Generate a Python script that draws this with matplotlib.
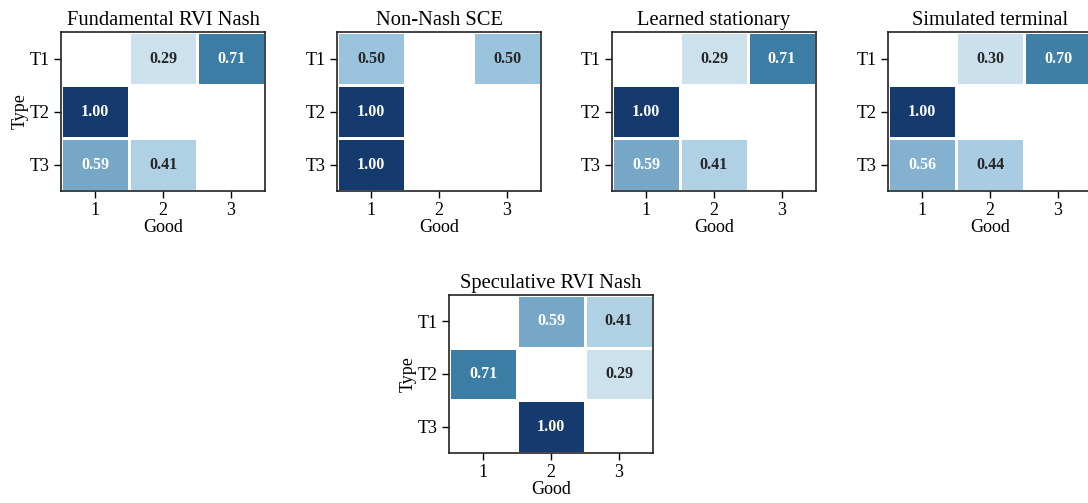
import numpy as np
import matplotlib
matplotlib.use("Agg")
import matplotlib.pyplot as plt
from matplotlib import colors

plt.rcParams['font.family'] = ['Liberation Serif', 'DejaVu Serif']

goods = ["1", "2", "3"]
types = ["T1", "T2", "T3"]

fundamental_nash = [[0.00, 0.29, 0.71],
                    [1.00, 0.00, 0.00],
                    [0.59, 0.41, 0.00]]
non_nash_sce = [[0.50, 0.00, 0.50],
                [1.00, 0.00, 0.00],
                [1.00, 0.00, 0.00]]
learned_stationary = [[0.00, 0.29, 0.71],
                      [1.00, 0.00, 0.00],
                      [0.59, 0.41, 0.00]]
simulated_terminal = [[0.00, 0.30, 0.70],
                      [1.00, 0.00, 0.00],
                      [0.56, 0.44, 0.00]]
speculative_nash = [[0.00, 0.59, 0.41],
                    [0.71, 0.00, 0.29],
                    [0.00, 1.00, 0.00]]

panels = [
    ("Fundamental RVI Nash", fundamental_nash, True),
    ("Non-Nash SCE", non_nash_sce, False),
    ("Learned stationary", learned_stationary, False),
    ("Simulated terminal", simulated_terminal, False),
    ("Speculative RVI Nash", speculative_nash, True),
]

W, H = 1088, 503
# axes boxes in pixels: left, top, width, height
boxes = [(61, 32, 204, 159), (337, 32, 204, 159), (612, 32, 204, 159),
         (888, 32, 204, 159), (449, 295, 204, 158)]

# muted blues ramp
cmap = colors.LinearSegmentedColormap.from_list("muted_blues", [
    (0.00, "#f7fbff"),
    (0.29, "#cde1ed"),
    (0.41, "#afd0e4"),
    (0.50, "#9bc4de"),
    (0.59, "#78a8c8"),
    (0.71, "#3c7da5"),
    (1.00, "#143a6e"),
])
norm = colors.Normalize(0, 1)


def luminance(rgb):
    rgb = np.asarray(rgb[:3])
    rgb = np.where(rgb <= .03928, rgb / 12.92, ((rgb + .055) / 1.055) ** 2.4)
    return rgb.dot([.2126, .7152, .0722])


fig = plt.figure(figsize=(W / 100, H / 100), dpi=100)

for (title, vals, ylab), (l, t, w, h) in zip(panels, boxes):
    ax = fig.add_axes([l / W, 1 - (t + h) / H, w / W, h / H])
    data = np.array(vals, dtype=float)
    masked = np.ma.masked_where(data == 0, data)
    ax.pcolormesh(masked, cmap=cmap, norm=norm, edgecolors="white", linewidth=0.9)
    for i in range(3):
        for j in range(3):
            v = data[i, j]
            if v == 0:
                continue
            c = "white" if luminance(cmap(norm(v))) <= .46 else "#262626"
            ax.text(j + .5, i + .5, f"{v:.2f}", ha="center", va="center",
                    color=c, fontsize=11.5, fontweight="bold")
    ax.set_xlim(0, 3)
    ax.set_ylim(3, 0)
    ax.set_xticks(np.arange(3) + .5, goods)
    ax.set_yticks(np.arange(3) + .5, types)
    ax.tick_params(labelsize=13, length=5, width=1, color="black", pad=3)
    ax.set_title(title, fontsize=14.8, pad=5)
    ax.set_xlabel("Good", fontsize=13, labelpad=0)
    if ylab:
        ax.set_ylabel("Type", fontsize=13, labelpad=1)
    for s in ax.spines.values():
        s.set_linewidth(1.2)
        s.set_color("#222222")

fig.savefig("out.png", dpi=100)
